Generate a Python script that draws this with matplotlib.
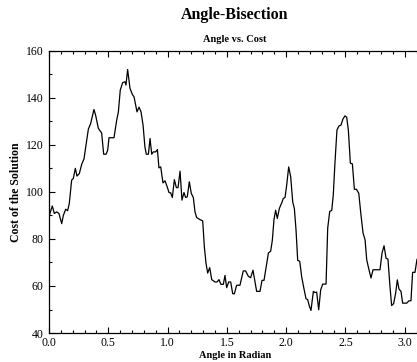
import matplotlib
matplotlib.use('Agg')
import matplotlib.pyplot as plt
from matplotlib.ticker import MultipleLocator

plt.rcParams['font.family'] = ['Liberation Serif', 'DejaVu Serif']

# sampled angle (rad) and the cost of the solution found at that angle
angle = [0.000, 0.028, 0.045, 0.065, 0.084, 0.107, 0.121, 0.141, 0.157, 0.171,
         0.191, 0.205, 0.222, 0.236, 0.256, 0.275, 0.295, 0.318, 0.332, 0.351,
         0.379, 0.393, 0.416, 0.444, 0.461, 0.481, 0.495, 0.506, 0.548, 0.571,
         0.585, 0.601, 0.621, 0.641, 0.649, 0.663, 0.683, 0.703, 0.717, 0.742,
         0.759, 0.776, 0.793, 0.809, 0.821, 0.838, 0.852, 0.866, 0.880, 0.900,
         0.914, 0.927, 0.942, 0.961, 0.978, 0.995, 1.012, 1.026, 1.040, 1.057,
         1.074, 1.088, 1.105, 1.121, 1.138, 1.152, 1.166, 1.183, 1.200, 1.217,
         1.231, 1.245, 1.273, 1.296, 1.310, 1.324, 1.338, 1.355, 1.372, 1.400,
         1.417, 1.433, 1.450, 1.470, 1.484, 1.498, 1.515, 1.532, 1.549, 1.563,
         1.582, 1.610, 1.638, 1.658, 1.681, 1.700, 1.720, 1.751, 1.779, 1.796,
         1.813, 1.827, 1.850, 1.869, 1.883, 1.897, 1.911, 1.925, 1.942, 1.962,
         1.976, 1.990, 2.004, 2.021, 2.038, 2.055, 2.069, 2.083, 2.097, 2.114,
         2.131, 2.148, 2.167, 2.181, 2.195, 2.209, 2.229, 2.243, 2.257, 2.274,
         2.291, 2.308, 2.336, 2.350, 2.367, 2.384, 2.397, 2.411, 2.428, 2.445,
         2.462, 2.479, 2.496, 2.510, 2.524, 2.541, 2.558, 2.575, 2.592, 2.612,
         2.629, 2.648, 2.665, 2.679, 2.698, 2.715, 2.732, 2.757, 2.791, 2.808,
         2.825, 2.842, 2.858, 2.875, 2.889, 2.906, 2.923, 2.937, 2.951, 2.968,
         2.982, 3.016, 3.035, 3.052, 3.066, 3.086, 3.103, 3.125]
cost = [89.6, 94.0, 90.8, 91.5, 90.8, 86.5, 90.0, 92.6, 92.0, 95.0,
        105.0, 105.7, 110.0, 106.7, 107.8, 111.6, 114.0, 122.0, 126.7, 129.0,
        135.0, 132.6, 127.0, 125.0, 116.0, 116.0, 117.7, 123.0, 123.0, 130.5,
        134.0, 143.3, 146.4, 146.8, 145.4, 152.0, 144.0, 141.4, 140.4, 134.0,
        136.0, 134.0, 128.4, 119.0, 116.0, 116.0, 122.7, 116.0, 117.0, 117.0,
        118.0, 110.2, 110.6, 103.8, 104.7, 102.4, 99.7, 99.6, 97.6, 105.2,
        101.8, 101.8, 108.8, 96.5, 99.7, 97.6, 97.9, 104.3, 99.3, 97.6,
        91.5, 89.1, 88.2, 87.7, 76.6, 69.6, 65.5, 67.8, 62.7, 61.7,
        61.7, 62.7, 60.7, 60.7, 64.5, 59.3, 61.7, 61.7, 56.7, 56.7,
        60.3, 60.3, 66.4, 66.4, 64.1, 63.5, 66.7, 57.7, 57.7, 62.4,
        62.4, 66.7, 74.0, 74.8, 79.4, 88.2, 92.2, 88.7, 92.9, 95.3,
        97.2, 97.6, 102.8, 110.6, 106.4, 95.7, 92.9, 83.7, 70.9, 70.5,
        63.8, 59.3, 54.6, 54.2, 51.5, 49.6, 57.7, 57.2, 57.4, 49.9,
        58.4, 60.8, 60.8, 84.6, 91.7, 92.1, 98.7, 112.2, 126.3, 128.0,
        128.4, 131.0, 132.3, 131.7, 126.3, 112.2, 111.9, 101.1, 101.1, 99.4,
        90.9, 82.5, 79.6, 71.1, 66.9, 63.4, 66.9, 66.9, 66.9, 74.0,
        77.1, 71.8, 71.4, 59.8, 51.7, 52.5, 57.0, 62.6, 58.7, 57.7,
        52.7, 52.7, 53.7, 53.7, 65.8, 65.8, 71.4, 72.0]

fig = plt.figure(figsize=(4.17, 3.62), dpi=100)
ax = fig.add_axes([0.1175, 0.080, 0.8935, 0.780])

ax.plot(angle, cost, color='black', linewidth=0.9)

ax.set_xlim(0, 3.1416)
ax.set_ylim(40, 160)
ax.xaxis.set_major_locator(MultipleLocator(0.5))
ax.xaxis.set_minor_locator(MultipleLocator(0.1))
ax.yaxis.set_major_locator(MultipleLocator(20))
ax.yaxis.set_minor_locator(MultipleLocator(10))
ax.xaxis.set_major_formatter(matplotlib.ticker.FormatStrFormatter('%.1f'))

ax.tick_params(which='both', direction='in', top=True, right=False,
               width=0.8, labelsize=8.5)
ax.tick_params(which='major', length=4.5)
ax.tick_params(which='minor', length=2.5)
ax.tick_params(axis='x', pad=3)
ax.tick_params(axis='y', pad=4)
for sp in ax.spines.values():
    sp.set_linewidth(0.9)

ax.set_xlabel('Angle in Radian', fontsize=7.5, fontweight='bold', labelpad=1.5)
ax.set_ylabel('Cost of the Solution', fontsize=8.5, fontweight='bold', labelpad=2.5)

fig.text(0.5628, 0.958, 'Angle-Bisection', ha='center', va='center',
         fontsize=11.5, fontweight='bold')
fig.text(0.5628, 0.892, 'Angle vs. Cost', ha='center', va='center',
         fontsize=7.5, fontweight='bold')

fig.savefig('out.png', dpi=100)
